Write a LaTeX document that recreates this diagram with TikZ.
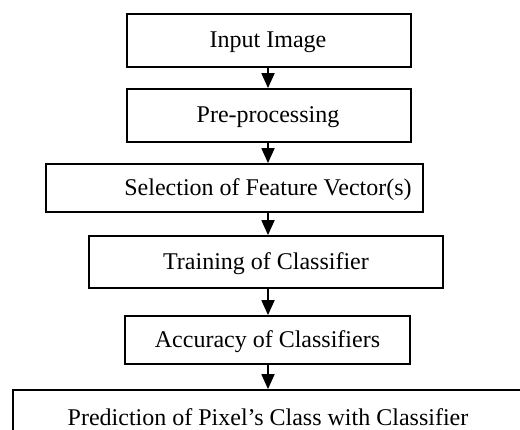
\documentclass[tikz,border=0pt]{standalone}
\usepackage{fontspec}
\setmainfont{Liberation Serif}
\usetikzlibrary{arrows.meta}
\begin{document}
\begin{tikzpicture}[x=1pt,y=-1pt,
  boxstyle/.style={draw=black, line width=1.8pt, inner sep=0pt},
  lbl/.style={anchor=base, font=\fontsize{24}{28}\selectfont, inner sep=0pt},
  flow/.style={line width=1.8pt, -{Triangle[width=13pt,length=15pt]}}]
\useasboundingbox (0,0) rectangle (520,430);
\fill[white] (0,0) rectangle (520,430);
\clip (0,0) rectangle (520,430);
\coordinate (ax) at (268,0);
% boxes
\node[boxstyle, minimum width=284pt, minimum height=53pt] (inp) at (269,40.5) {};
\node[boxstyle, minimum width=284pt, minimum height=53pt] (pre) at (269,115.5) {};
\node[boxstyle, minimum width=377pt, minimum height=48pt] (sel) at (234.5,188) {};
\node[boxstyle, minimum width=354pt, minimum height=52pt] (trn) at (266,262) {};
\node[boxstyle, minimum width=285pt, minimum height=48pt] (acc) at (267.5,340) {};
\node[boxstyle, minimum width=527pt, minimum height=56pt] (prd) at (276.5,418) {};
% labels
\node[lbl] (inpt) at (268,48) {Input Image};
\node[lbl] (pret) at (268,123) {Pre-processing};
\node[lbl] (selt) at (268,196) {Selection of Feature Vector(s)};
\node[lbl] (trnt) at (266,270) {Training of Classifier};
\node[lbl] (acct) at (267.5,348) {Accuracy of Classifiers};
\node[lbl] (prdt) at (268,426) {Prediction of Pixel’s Class with Classifier};
% arrows
\draw[flow] (inp.south -| ax) -- (pre.north -| ax);
\draw[flow] (pre.south -| ax) -- (sel.north -| ax);
\draw[flow] (sel.south -| ax) -- (trn.north -| ax);
\draw[flow] (trn.south -| ax) -- (acc.north -| ax);
\draw[flow] (acc.south -| ax) -- (prd.north -| ax);
\end{tikzpicture}
\end{document}
